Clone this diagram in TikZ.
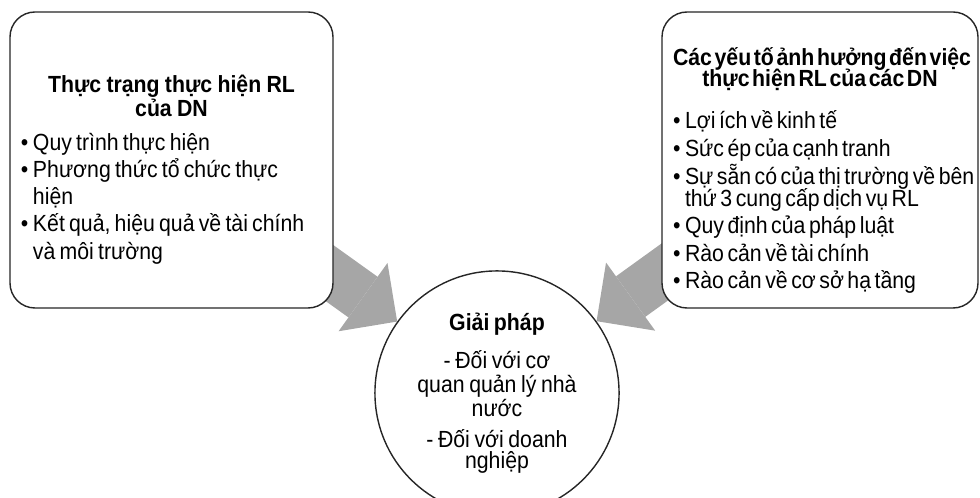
\documentclass[tikz,border=0pt]{standalone}
\usepackage{fontspec}
\setmainfont{Liberation Sans}[FakeStretch=0.91]
\usetikzlibrary{arrows.meta}
\pgfdeclarelayer{background}
\pgfsetlayers{background,main}
\definecolor{flowgray}{RGB}{166,166,166}
\definecolor{edgegray}{RGB}{38,38,38}
\hyphenpenalty=10000
% one bullet line, wrapped lines hang under the text
\newcommand{\itm}[1]{\par\noindent\hangindent=0.24cm\hangafter=1\makebox[0.24cm][l]{\textbullet}#1\par}
\newcommand{\txt}[2]{\fontsize{13.3}{#1}\selectfont\lineskiplimit=-20pt\spaceskip=#2\relax}

\begin{document}
\begin{tikzpicture}[semithick,
    panel/.style={draw=edgegray,line width=0.8pt,fill=white,rounded corners=0.5cm,
      minimum height=5.92cm,inner xsep=0.22cm,align=left},
    hub/.style={draw=edgegray,line width=0.8pt,fill=white,circle,minimum size=4.64cm,
      inner sep=0pt,text width=3.7cm,align=center},
    flow/.style={draw=flowgray,line width=1cm,
      -{Triangle[length=0.84cm,width=1.68cm,line width=0pt]}}]
  \useasboundingbox (0,0) rectangle (19.6,9.96);

  \node[panel,text width=6.02cm] (status) at (3.43,6.76) {%
    \txt{15.5}{2.4pt}\setlength{\parskip}{0pt}%
    {\centering\bfseries\txt{14}{3pt}\rule{0pt}{0.72cm}Thực trạng thực hiện RL\par của DN\par}
    \vspace{3.5pt}
    \itm{\mbox{Quy trình thực hiện}}
    \itm{\mbox{Phương thức tổ chức thực}\newline hiện}
    \itm{\mbox{Kết quả, hiệu quả về tài chính}\newline và môi trường}};

  \node[panel,text width=5.88cm] (factors) at (16.4,6.76) {%
    \txt{12.6}{2pt}\setlength{\parskip}{3.1pt}%
    {\centering\bfseries\txt{12}{1.5pt}\parskip=0pt
      \rule{0pt}{0.78cm}\mbox{Các yếu tố ảnh hưởng đến việc}\par thực hiện RL của các DN\par}
    \vspace{8.5pt}
    \itm{\mbox{Lợi ích về kinh tế}}
    \itm{\mbox{Sức ép của cạnh tranh}}
    \itm{\mbox{Sự sẵn có của thị trường về bên}\newline thứ 3 cung cấp dịch vụ RL}
    \itm{\mbox{Quy định của pháp luật}}
    \itm{\mbox{Rào cản về tài chính}}
    \itm{\mbox{Rào cản về cơ sở hạ tầng}}};

  \node[hub] (sol) at (9.94,2.10) {%
    \txt{13.6}{2.6pt}{\bfseries Giải pháp}\\[8pt]
    - Đối với cơ\\quan quản lý nhà\\nước\\[4pt]
    - Đối với doanh\\nghiệp};

  \begin{pgfonlayer}{background}
    \draw[flow] (status.center) -- (sol);
    \draw[flow] (factors.center) -- (sol);
  \end{pgfonlayer}
\end{tikzpicture}
\end{document}
